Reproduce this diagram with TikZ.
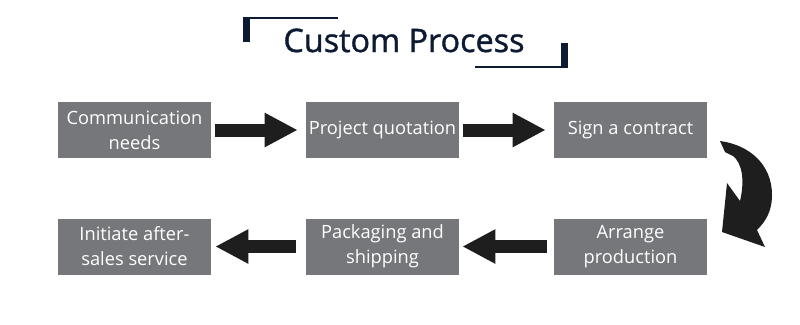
\documentclass[tikz,border=0pt]{standalone}
\usepackage{fontspec}
\setmainfont{Open Sans}
\newfontfamily\titlefont[FakeBold=1.2]{Open Sans}
\usetikzlibrary{arrows.meta,positioning,calc}
\definecolor{boxGray}{RGB}{118,119,123}
\definecolor{titleNavy}{RGB}{12,26,50}
\definecolor{arrowInk}{RGB}{30,30,30}
\tikzset{
  stepbox/.style={fill=boxGray,text=white,align=center,minimum width=153*0.025cm,minimum height=56*0.025cm,inner sep=0pt,font=\fontsize{13}{17.8}\selectfont},
  block arrow/.style={draw=arrowInk,line width=13*0.025cm,-{Triangle[length=33*0.025cm,width=32*0.025cm]}},
  corner bar/.style={fill=titleNavy}
}
\begin{document}
\begin{tikzpicture}[x=0.025cm,y=-0.025cm]
        \useasboundingbox (0,0) rectangle (800,324);
        % title with corner brackets
        \node[text=titleNavy,font=\titlefont\fontsize{23}{26}\selectfont,anchor=base,inner sep=0pt] (title) at (404,52) {Custom Process};
        \fill[corner bar] (243,17) rectangle (250,42);
        \fill[corner bar] (243,17) rectangle (338,19);
        \fill[corner bar] (561,43) rectangle (568,68);
        \fill[corner bar] (475,66) rectangle (568,68);
        % steps
        \node[stepbox] (needs) at (134.5,130) {Communication\\needs};
        \node[stepbox] (quote) at (382.5,130) {Project quotation};
        \node[stepbox] (contract) at (630.5,130) {Sign a contract};
        \node[stepbox] (produce) at (630.5,246.5) {Arrange\\production};
        \node[stepbox] (ship) at (382.5,246.5) {Packaging and\\shipping};
        \node[stepbox] (service) at (134.5,246.5) {Initiate after-\\sales service};
        % arrows
        \draw[block arrow,shorten <=4*0.025cm,shorten >=8*0.025cm] (needs) -- (quote);
        \draw[block arrow,shorten <=4*0.025cm,shorten >=8*0.025cm] (quote) -- (contract);
        \draw[block arrow,shorten <=7*0.025cm,shorten >=3*0.025cm] (produce) -- (ship);
        \draw[block arrow,shorten <=10*0.025cm,shorten >=4*0.025cm] (ship) -- (service);
        % bent arrow from contract down to production
        \coordinate (bendtop) at (720,141);
        \fill[arrowInk] (bendtop) .. controls (750,145) and (772,165) .. (772,195)
          .. controls (772,212) and (765,222) .. (757,230)
          -- (765,247) -- (722,232) -- (727,183) -- (740,201)
          .. controls (745,180) and (742,163) .. (733,156)
          -- (725,152) -- cycle;
      \end{tikzpicture}
\end{document}
